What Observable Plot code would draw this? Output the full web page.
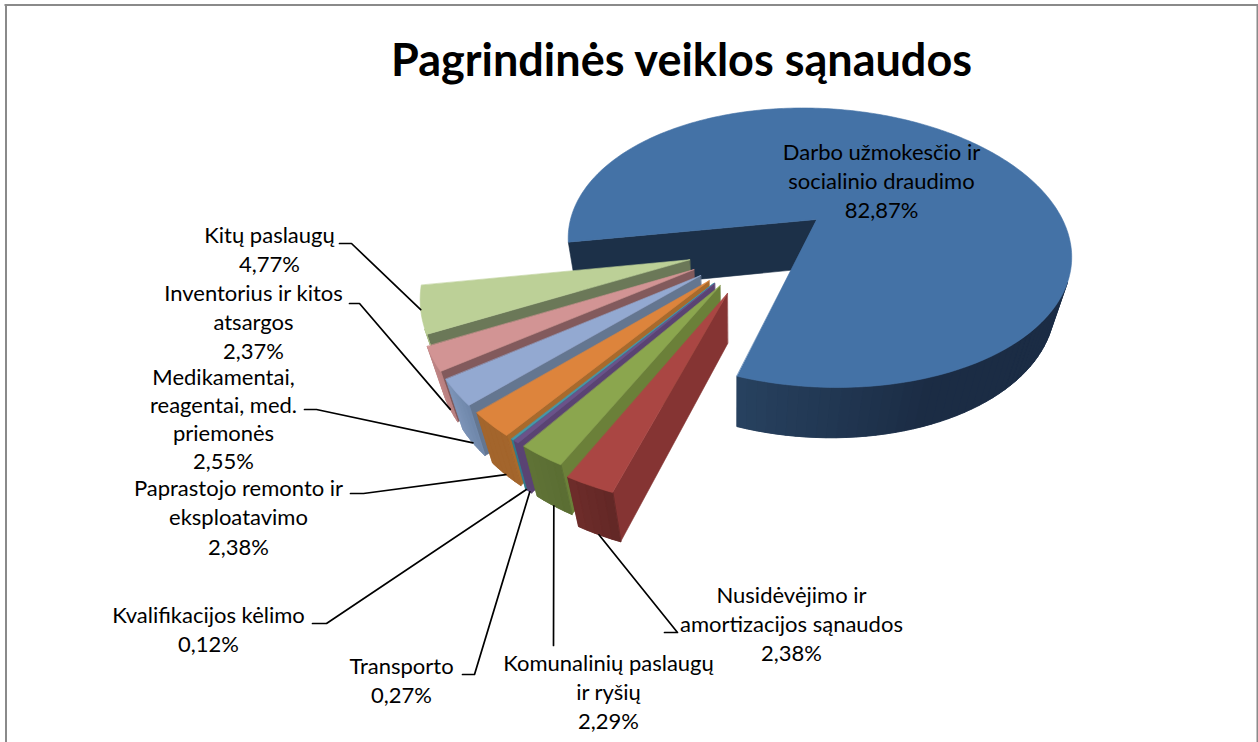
<!DOCTYPE html>
<html lang="lt">
<head>
<meta charset="utf-8">
<title>Pagrindinės veiklos sąnaudos</title>
<script src="https://cdn.jsdelivr.net/npm/d3@7"></script>
<script src="https://cdn.jsdelivr.net/npm/@observablehq/plot@0.6"></script>
<style>
html,body{margin:0;padding:0;background:#fff;overflow:hidden}
svg{display:block}
</style>
</head>
<body>
<div id="chart"></div>
<script>
// ---- data, clockwise from the large slice ----
const chartTitle = "Pagrindinės veiklos sąnaudos";
const categories = [
  "Darbo užmokesčio ir\nsocialinio draudimo",
  "Nusidėvėjimo ir\namortizacijos sąnaudos",
  "Komunalinių paslaugų\nir ryšių",
  "Transporto",
  "Kvalifikacijos kėlimo",
  "Paprastojo remonto ir\neksploatavimo",
  "Medikamentai,\nreagentai, med.\npriemonės",
  "Inventorius ir kitos\natsargos",
  "Kitų paslaugų"
];
const shares = [82.87, 2.38, 2.29, 0.27, 0.12, 2.38, 2.55, 2.37, 4.77];

// ---- styles: [top face, radial wall, outer wall near, outer wall far] ----
const faceColors = [
  ["#4472a6","#1c3048","#1b2c44","#27415f"],
  ["#aa4643","#853433","#622826","#6e2c2a"],
  ["#8ba64e","#6b8039","#5a6d33","#5f7336"],
  ["#6c5289","#5a4373","#5a4373","#5a4373"],
  ["#3f9bb0","#317a8c","#317a8c","#317a8c"],
  ["#dd843c","#a86a2c","#a3652c","#a3652c"],
  ["#93a9d1","#647690","#6f87aa","#7d94b8"],
  ["#d29494","#825a5c","#b97f7f","#bf8686"],
  ["#bcd097","#6b7858","#a7bc83","#b1c58c"]
];

// ---- view of the pie plane (perspective, from above) ----
const view = {g:0.202, e:89.8, px:735, c:81, A:246, f:219, H:62, k:0.05};
const firstAngle = 170.6, explosion = [0.3, 0.33, 0.3, 0.3, 0.3, 0.3, 0.3, 0.3, 0.29];
const rad = d => d * Math.PI / 180;
const dir = t => [Math.cos(rad(t)), Math.sin(rad(t))];
function project(u, v, z) {
  const w = 1 - view.g * v + view.k * z;
  return [view.px + (view.c + view.A * u) / w, (view.f + view.e * v + view.H * z) / w];
}
let run = firstAngle;
const slices = shares.map((s, i) => {
  const t0 = run, t1 = run + s / 100 * 360;
  run = t1;
  return {i, t0, t1, mid: (t0 + t1) / 2};
});
// the big slice's apex is the origin of the plane, the pie centre follows from the explosion
const d0 = dir(slices[0].mid);
const centre = [-explosion[0] * d0[0], -explosion[0] * d0[1]];
slices.forEach(s => {
  const d = dir(s.mid);
  s.apex = [centre[0] + explosion[s.i] * d[0], centre[1] + explosion[s.i] * d[1]];
});
const rim = (s, t, z) => {
  const d = dir(t);
  return project(s.apex[0] + d[0], s.apex[1] + d[1], z);
};
const area = pts => d3.sum(pts, (p, i) => {
  const q = pts[(i + 1) % pts.length];
  return p[0] * q[1] - q[0] * p[1];
});

// ---- faces, painted back to front ----
const faces = [];
let faceId = 0;
function addFace(pts, color) {
  const id = faceId++;
  pts.forEach(p => faces.push({id, x: p[0], y: p[1], color}));
}
function drawSlice(s) {
  const col = faceColors[s.i];
  const aT = project(s.apex[0], s.apex[1], 0), aB = project(s.apex[0], s.apex[1], 1);
  const walls = [
    [aT, rim(s, s.t0, 0), rim(s, s.t0, 1), aB],
    [rim(s, s.t1, 0), aT, aB, rim(s, s.t1, 1)]
  ];
  walls.forEach(q => { if (area(q) < 0) addFace(q, col[1]); });
  const n = Math.max(1, Math.ceil((s.t1 - s.t0) / 2));
  const mix = d3.interpolateRgb(col[2], col[3]);
  const strips = [];
  for (let j = 0; j < n; j++) {
    const a = s.t0 + (s.t1 - s.t0) * j / n, b = s.t0 + (s.t1 - s.t0) * (j + 1) / n;
    const q = [rim(s, a, 0), rim(s, b, 0), rim(s, b, 1), rim(s, a, 1)];
    if (area(q) < 0) {
      const m = (a + b) / 2 % 360;
      const t = s.i === 0 ? Math.max(0, Math.min(1, (m - 72) / 36)) : (j + 0.5) / n;
      strips.push({q, c: mix(t)});
    }
  }
  if (strips.length) {
    // solid backing so that neighbouring strips leave no pale seam
    const upper = strips.map(d => d.q[0]).concat([strips[strips.length - 1].q[1]]);
    const lower = strips.map(d => d.q[3]).concat([strips[strips.length - 1].q[2]]).reverse();
    addFace(upper.concat(lower), mix(0.5));
    strips.forEach(d => addFace(d.q, d.c));
  }
  const top = [aT];
  for (let j = 0; j <= Math.ceil(s.t1 - s.t0); j++) {
    top.push(rim(s, Math.min(s.t1, s.t0 + j), 0));
  }
  addFace(top, col[0]);
}
slices.slice().sort((a, b) => (a.i === 0 ? -1 : b.i === 0 ? 1 : b.i - a.i)).forEach(drawSlice);

// ---- labels and leaders ----
const pct = v => v.toFixed(2).replace(".", ",") + "%";
const labelCentre = [[881,179],[791,622],[608,690],[401,679],[208,628],[238,515.5],[223,417.7],[253,320],[269,248]];
const stubs = [null,[[664,632],[677,632]],[[553,645]],[[462,674],[474,674]],[[312,623],[326,623]],
  [[350,493],[363,493]],[[304,409],[316,409]],[[349,303],[359,303]],[[339,243],[351,243]]];
const leaderDepth = [0,1,1,1,1,1,1,1,0];
const labels = categories.map((c, i) => ({
  text: c + "\n" + pct(shares[i]), x: labelCentre[i][0], y: labelCentre[i][1], lines: c.split("\n").length + 1
}));
const labelStyle = {
  x: "x", y: "y", text: "text", fontFamily: "Lato", fontSize: 22,
  fill: "#000", lineAnchor: "middle", textAnchor: "middle"
};
const leaders = [];
slices.forEach(s => {
  if (!stubs[s.i]) return;
  stubs[s.i].forEach(p => leaders.push({id: s.i, x: p[0], y: p[1]}));
  const e = rim(s, s.mid, leaderDepth[s.i]);
  leaders.push({id: s.i, x: e[0], y: e[1]});
});

const chart = Plot.plot({
  width: 1258, height: 742, margin: 0,
  x: {domain: [0, 1258], range: [0, 1258], axis: null},
  y: {domain: [0, 742], range: [0, 742], axis: null},
  style: {background: "#fff"},
  marks: [
    Plot.ruleX([5.5, 1257], {y1: 4, y2: 742, stroke: "#8a8a8a", strokeWidth: 2}),
    Plot.ruleY([4.5], {x1: 4.5, x2: 1258, stroke: "#8a8a8a", strokeWidth: 2}),
    Plot.line(faces, {
      x: "x", y: "y", z: "id", curve: "linear-closed",
      fill: {value: "color", scale: null}, stroke: {value: "color", scale: null},
      strokeWidth: 0.6
    }),
    Plot.line(leaders, {x: "x", y: "y", z: "id", stroke: "#000", strokeWidth: 1.7}),
    Plot.text(labels.filter(d => d.lines < 4), {...labelStyle, lineHeight: 1.33}),
    Plot.text(labels.filter(d => d.lines === 4), {...labelStyle, lineHeight: 1.28}),
    Plot.text([chartTitle], {
      x: () => 681, y: () => 61, text: d => d, fontFamily: "Lato", fontWeight: 700, fontSize: 45,
      fill: "#000", lineAnchor: "middle", textAnchor: "middle"
    })
  ]
});
document.getElementById("chart").append(chart);
</script>
</body>
</html>
